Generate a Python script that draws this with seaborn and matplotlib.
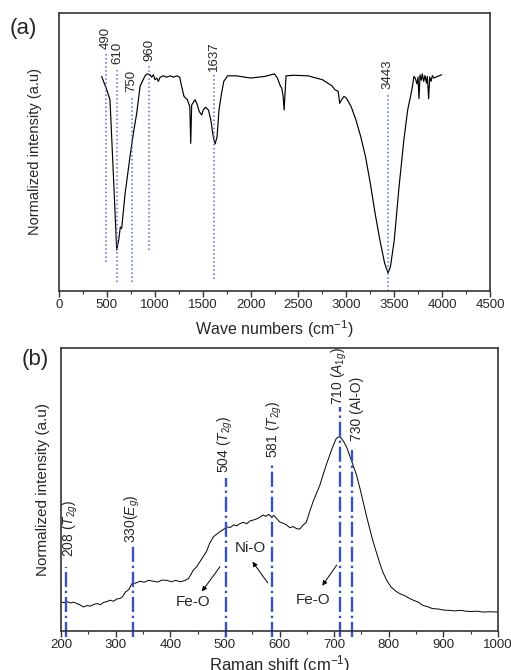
import matplotlib
matplotlib.use('Agg')
import matplotlib.pyplot as plt
from matplotlib.ticker import MultipleLocator
import pandas as pd
import seaborn as sns

sns.set_style('ticks')
plt.rcParams['font.family'] = ['Liberation Sans', 'DejaVu Sans']
plt.rcParams['mathtext.fontset'] = 'custom'
plt.rcParams['mathtext.rm'] = 'Liberation Sans'
plt.rcParams['mathtext.it'] = 'Liberation Sans:italic'

LINE_COLOR = 'black'
SPINE_COLOR = '#333333'
FTIR_MARK = '#5b6bd0'
RAMAN_MARK = '#3553c6'

# FTIR spectrum (panel a), intensity in % of axis height
ftir_x = [445, 498, 532, 567, 602, 623, 640, 654, 690, 741, 776, 811, 846, 898, 919,
          950, 967, 985, 1002, 1020, 1037, 1055, 1090, 1125, 1160, 1195, 1230, 1260,
          1280, 1305, 1340, 1365, 1375, 1385, 1420, 1440, 1465, 1490, 1505, 1530,
          1560, 1585, 1610, 1630, 1650, 1670, 1695, 1720, 1760, 1850, 2000, 2150,
          2250, 2280, 2310, 2325, 2340, 2350, 2358, 2370, 2450, 2600, 2750, 2850,
          2880, 2915, 2930, 2950, 2975, 3000, 3050, 3100, 3150, 3200, 3250, 3300,
          3350, 3400, 3435, 3460, 3500, 3550, 3600, 3640, 3670, 3690, 3705, 3720,
          3737, 3748, 3758, 3769, 3783, 3793, 3807, 3821, 3835, 3845, 3859, 3870,
          3884, 3898, 3912, 3995]
ftir_y = [77.2, 72.4, 68.8, 42.3, 14.7, 18.3, 23.0, 22.5, 35.1, 48.3, 56.7, 63.9, 73.6, 77.4, 78.1,
          77.8, 76.9, 77.8, 76.0, 76.6, 75.4, 76.9, 77.4, 76.9, 77.4, 76.9, 77.4, 76.9,
          73.6, 70.0, 68.8, 66.3, 53.1, 66.9, 68.8, 67.3, 64.5, 63.3, 65.1, 66.1,
          65.1, 61.5, 55.5, 52.9, 55.5, 65.1, 70.7, 75.4, 77.4, 77.4, 76.6, 77.2,
          78.1, 76.6, 73.8, 73.0, 70.0, 65.1, 70.0, 77.4, 77.6, 77.4, 76.0, 73.8,
          72.4, 71.8, 67.5, 68.8, 70.0, 69.4, 66.3, 61.5, 55.5, 48.3, 38.7, 27.9,
          18.3, 9.9, 6.5, 8.7, 18.3, 37.5, 54.3, 65.1, 70.0, 73.6, 77.2, 76.5,
          74.5, 77.0, 69.2, 77.8, 75.8, 78.1, 75.4, 77.5, 74.8, 77.2, 69.2, 77.0,
          75.4, 77.5, 76.6, 77.8]

ftir_peaks = [490, 610, 759, 940, 1618, 3432]
ftir_peak_names = ['490', '610', '750', '960', '1637', '3443']
ftir_peak_top = [85.6, 80.2, 70.0, 81.4, 77.8, 71.2]
ftir_peak_bottom = [10.5, 3.2, 3.2, 14.7, 4.4, 0.0]

# Raman spectrum (panel b)
raman_x = [200, 205, 211, 217, 223, 229, 235, 241, 248, 254, 260, 266, 272, 278, 284, 290,
           296, 302, 308, 313, 318, 324, 330, 336, 345, 352, 360, 369, 377, 385, 394,
           402, 410, 418, 426, 433, 438, 442, 448, 454, 460, 466, 472, 479, 485, 491,
           497, 503, 510, 516, 522, 528, 534, 540, 546, 552, 558, 564, 570, 575, 580,
           585, 590, 595, 600, 606, 612, 619, 625, 631, 637, 643, 649, 655, 662, 668,
           674, 680, 686, 692, 698, 704, 707, 710, 714, 719, 723, 728, 734, 741, 747,
           753, 759, 765, 771, 777, 783, 789, 796, 804, 812, 820, 829, 838, 846, 854,
           862, 871, 880, 890, 900, 911, 921, 931, 941, 951, 962, 972, 986, 1000]
raman_y = [10.3, 10.0, 10.4, 9.9, 10.2, 9.7, 9.2, 8.5, 9.0, 8.8, 9.4, 9.7, 9.3, 10.1, 10.4, 10.9,
           10.5, 11.3, 11.5, 12.2, 13.8, 14.6, 16.8, 16.9, 17.6, 17.2, 17.9, 17.6, 17.3, 18.0, 17.9,
           17.4, 17.9, 17.4, 17.8, 18.5, 20.0, 21.5, 22.6, 24.4, 26.2, 28.0, 30.9, 33.3, 34.2, 35.1,
           35.8, 36.8, 36.6, 37.5, 37.2, 38.0, 38.4, 37.9, 38.9, 39.2, 39.6, 40.2, 41.0, 40.5, 41.2,
           40.4, 40.8, 39.7, 38.6, 38.1, 37.6, 36.5, 36.9, 36.2, 36.0, 37.4, 38.4, 42.1, 46.0, 48.8,
           51.6, 55.4, 58.9, 62.2, 65.4, 68.1, 68.4, 68.7, 67.9, 66.4, 64.9, 62.2, 58.9, 55.1, 50.6,
           45.7, 40.8, 36.2, 31.8, 28.0, 24.3, 20.9, 18.0, 15.6, 14.2, 13.2, 12.5, 11.5, 10.8, 10.2,
           9.1, 8.6, 7.9, 7.8, 7.4, 7.3, 7.1, 7.3, 7.0, 6.9, 7.0, 6.7, 6.8, 6.7]

raman_peaks = [209.7, 331, 502, 587, 710.7, 732]
raman_peak_names = [r'208 ($T_{2g}$)', r'330($E_g$)', r'504 ($T_{2g}$)',
                    r'581 ($T_{2g}$)', r'710 ($A_{1g}$)', r'730 (Al-O)']
raman_peak_top = [22.7, 30.1, 54.2, 58.7, 79.3, 64.0]
raman_label_x = [218, 330, 500, 591, 709, 742]
raman_label_y = [26.2, 31.0, 55.7, 61.0, 80.0, 67.0]

ftir = pd.DataFrame({'wavenumber': ftir_x, 'intensity': ftir_y})
raman = pd.DataFrame({'shift': raman_x, 'intensity': raman_y})

fig = plt.figure(figsize=(5.11, 6.70), dpi=100)
ax_a = fig.add_axes([0.1155, 0.5657, 0.8435, 0.4149])
ax_b = fig.add_axes([0.1194, 0.0582, 0.8552, 0.4224])

# ---- panel (a)
sns.lineplot(data=ftir, x='wavenumber', y='intensity', color=LINE_COLOR, lw=0.85,
             sort=False, ax=ax_a)
for xp, name, top, bot in zip(ftir_peaks, ftir_peak_names, ftir_peak_top, ftir_peak_bottom):
    ax_a.plot([xp, xp], [bot, top], ls=':', color=FTIR_MARK, lw=1.1)
    ax_a.text(xp, top + 1.5, name, rotation=90, ha='center', va='bottom', fontsize=9.5)

ax_a.set_xlim(0, 4500)
ax_a.set_ylim(0, 100)
ax_a.xaxis.set_major_locator(MultipleLocator(500))
ax_a.xaxis.set_minor_locator(MultipleLocator(250))
ax_a.set_xlabel('Wave numbers (cm$^{-1}$)', fontsize=11.5, labelpad=5)
ax_a.set_ylabel('Normalized intensity (a.u)', fontsize=10.5, labelpad=12)

# ---- panel (b)
sns.lineplot(data=raman, x='shift', y='intensity', color=LINE_COLOR, lw=0.7,
             sort=False, ax=ax_b)
for xp, top in zip(raman_peaks, raman_peak_top):
    ax_b.plot([xp, xp], [-2, top], ls='-.', color=RAMAN_MARK, lw=1.7, clip_on=False)
for lx, ly, name in zip(raman_label_x, raman_label_y, raman_peak_names):
    ax_b.text(lx, ly, name, rotation=90, ha='center', va='bottom', fontsize=10)

arrow = dict(arrowstyle='-|>', color='black', lw=0.7, mutation_scale=7)
ax_b.annotate('', xy=(455, 13.2), xytext=(494, 23.5), arrowprops=arrow)
ax_b.annotate('', xy=(547.5, 25.3), xytext=(581.5, 16.2), arrowprops=arrow)
ax_b.annotate('', xy=(675.3, 15.2), xytext=(707.6, 24.1), arrowprops=arrow)
ax_b.text(441, 10.3, 'Fe-O', ha='center', va='center', fontsize=11)
ax_b.text(546, 29.2, 'Ni-O', ha='center', va='center', fontsize=11)
ax_b.text(662, 11.1, 'Fe-O', ha='center', va='center', fontsize=11)

ax_b.set_xlim(200, 1000)
ax_b.set_ylim(0, 100)
ax_b.xaxis.set_major_locator(MultipleLocator(100))
ax_b.xaxis.set_minor_locator(MultipleLocator(50))
ax_b.set_xlabel('Raman shift (cm$^{-1}$)', fontsize=12, labelpad=1)
ax_b.set_ylabel('Normalized intensity (a.u)', fontsize=11, labelpad=8)

for ax in (ax_a, ax_b):
    ax.set_yticks([])
    for sp in ax.spines.values():
        sp.set_color(SPINE_COLOR)
        sp.set_linewidth(1.2)
    ax.tick_params(axis='x', which='major', length=4, width=1.0, labelsize=9.5,
                   color=SPINE_COLOR, pad=2)
    ax.tick_params(axis='x', which='minor', length=2.5, width=0.8, color=SPINE_COLOR)

fig.text(0.046, 0.958, '(a)', fontsize=16, ha='center', va='center')
fig.text(0.069, 0.463, '(b)', fontsize=16, ha='center', va='center')

fig.savefig('out.png', dpi=100)
